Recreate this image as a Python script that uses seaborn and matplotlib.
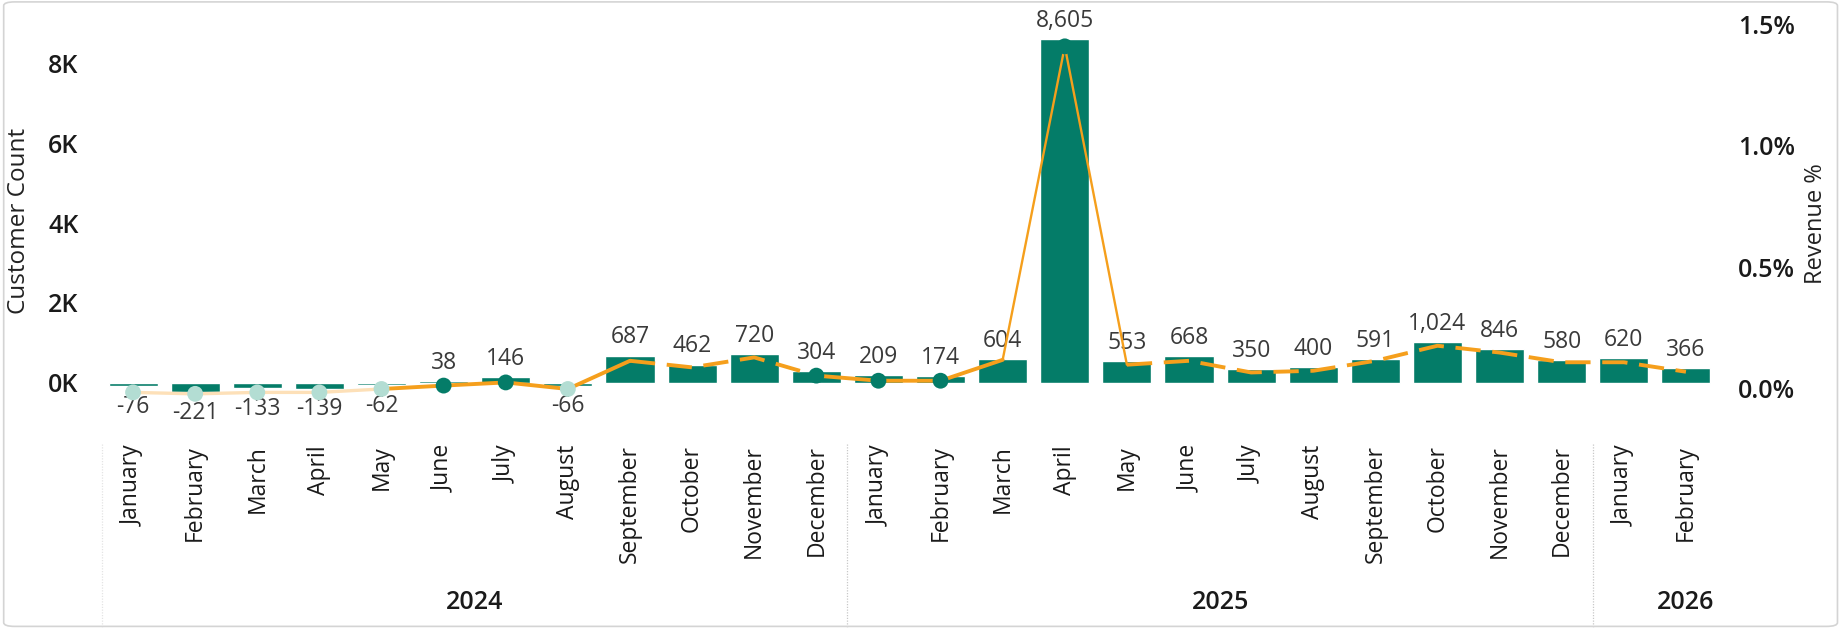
import matplotlib
matplotlib.use("Agg")
import matplotlib.pyplot as plt
from matplotlib.patches import FancyBboxPatch
from matplotlib.ticker import FuncFormatter
import seaborn as sns
import pandas as pd

# data
months = ["January", "February", "March", "April", "May", "June", "July",
          "August", "September", "October", "November", "December",
          "January", "February", "March", "April", "May", "June", "July",
          "August", "September", "October", "November", "December",
          "January", "February"]
years = ["2024"] * 12 + ["2025"] * 12 + ["2026"] * 2
customers = [-76, -221, -133, -139, -62, 38, 146, -66, 687, 462, 720, 304,
             209, 174, 604, 8605, 553, 668, 350, 400, 591, 1024, 846, 580,
             620, 366]
revenue_pct = [-0.014, -0.02, -0.014, -0.014, 0.0, 0.014, 0.027, 0.0, 0.116,
               0.089, 0.13, 0.055, 0.034, 0.034, 0.12, 1.41, 0.1, 0.116,
               0.068, 0.075, 0.116, 0.178, 0.15, 0.11, 0.11, 0.071]

# look of the line (per segment) and which points get a dot
seg_style = (["faded"] * 4 + ["solid"] * 4 + ["dashed"] * 3 + ["solid"] * 3
             + ["thin"] * 2 + ["dashed"] * 9)
dark_dots = [5, 6, 11, 12, 13, 15]
faded_dots = [0, 1, 2, 3, 4, 7]

TEAL = "#047c68"
ORANGE = "#f59f1c"
FONT = ["Open Sans", "DejaVu Sans"]

sns.set_style("white")
plt.rcParams["font.family"] = FONT

df = pd.DataFrame({"key": [f"{y}-{i}" for i, y in enumerate(years)],
                   "month": months, "year": years,
                   "customers": customers, "revenue": revenue_pct})

fig = plt.figure(figsize=(18.43, 6.34), dpi=100)
ax = fig.add_axes([0.05534, 0.33754, 0.87629, 0.6388])

sns.barplot(data=df, x="key", y="customers", color=TEAL, width=0.79,
            saturation=1, ax=ax)
ax.set_xlim(-0.5, len(df) - 0.5)
ax.set_ylim(-925, 9200)
ax.set_yticks([0, 2000, 4000, 6000, 8000])
ax.yaxis.set_major_formatter(FuncFormatter(lambda v, p: f"{int(v/1000)}K"))
ax.set_xticks(range(len(df)))
ax.set_xticklabels(df["month"], rotation=90)
ax.tick_params(axis="x", length=0, pad=18, labelsize=16.5, labelcolor="#1a1a1a")
ax.tick_params(axis="y", length=0, pad=17, labelsize=18, labelcolor="#1a1a1a")
for t in ax.get_yticklabels():
    t.set_fontweight("semibold")
ax.set_xlabel("")
ax.set_ylabel("Customer Count", fontsize=17.5, color="#222222")
ax.yaxis.set_label_coords(-0.044, 0.491)
for s in ax.spines.values():
    s.set_visible(False)

# bar value labels
for i, v in enumerate(df["customers"]):
    off = 13 if v >= 0 else -15
    ax.annotate(f"{v:,}", (i, v), xytext=(0, off), textcoords="offset points",
                ha="center", va="center", fontsize=16.5, color="#3a3a3a")

# secondary axis: revenue %
ax2 = ax.twinx()
ax2.set_ylim(-0.1276, 1.539)
ax2.set_yticks([0, 0.5, 1.0, 1.5])
ax2.yaxis.set_major_formatter(FuncFormatter(lambda v, p: f"{v:.1f}%"))
ax2.tick_params(axis="y", length=0, pad=15, labelsize=18, labelcolor="#1a1a1a")
for t in ax2.get_yticklabels():
    t.set_fontweight("semibold")
ax2.set_ylabel("Revenue %", fontsize=17, color="#222222")
ax2.yaxis.set_label_coords(1.054, 0.484)
for s in ax2.spines.values():
    s.set_visible(False)
ax2.grid(False)

styles = {
    "faded": dict(color="#fde0b8", lw=2.4, ls="-"),
    "solid": dict(color=ORANGE, lw=2.8, ls="-"),
    "dashed": dict(color=ORANGE, lw=2.8, ls=(0, (6.5, 3))),
    "thin": dict(color=ORANGE, lw=1.7, ls="-"),
}
# group consecutive segments with the same style into one polyline
start = 0
for i in range(1, len(seg_style) + 1):
    if i == len(seg_style) or seg_style[i] != seg_style[start]:
        xs = list(range(start, i + 1))
        sns.lineplot(x=xs, y=df["revenue"].iloc[start:i + 1].values, ax=ax2,
                     sort=False, estimator=None, legend=False,
                     solid_capstyle="round", dash_capstyle="butt",
                     **styles[seg_style[start]])
        start = i

sns.scatterplot(x=faded_dots, y=df["revenue"].iloc[faded_dots].values, ax=ax2,
                color="#b3ddd3", s=130, edgecolor="none", zorder=5)
sns.scatterplot(x=dark_dots, y=df["revenue"].iloc[dark_dots].values, ax=ax2,
                color=TEAL, s=130, edgecolor="none", zorder=5)

# year labels and separators under the month labels
blend = ax.get_xaxis_transform()
groups = df.groupby("year", sort=False).apply(lambda g: list(g.index),
                                              include_groups=False)
last = groups.index[-1]
for yr, idx in groups.items():
    cx = (idx[0] + idx[-1]) / 2 + (0.5 if yr == last else 0)
    ax.text(cx, -0.45, yr, transform=blend, ha="center", va="center",
            fontsize=18, fontweight="semibold", color="#1a1a1a")
    if idx[0] > 0:
        ax.plot([idx[0] - 0.5] * 2, [-0.06, -0.51], transform=blend,
                color="#c8c8c8", lw=0.9, ls=(0, (1, 1.2)), clip_on=False)
ax.plot([-0.5, -0.5], [-0.06, -0.51], transform=blend, color="#e4e4e4",
        lw=0.9, ls=(0, (1, 1.2)), clip_on=False)

# light frame round the visual
fig.patches.append(FancyBboxPatch((0.002, 0.012), 0.995, 0.985,
                                  boxstyle="round,pad=0,rounding_size=0.006",
                                  transform=fig.transFigure, fill=False,
                                  edgecolor="#d4d4d4", lw=1.2))

fig.savefig("out.png", dpi=100)
